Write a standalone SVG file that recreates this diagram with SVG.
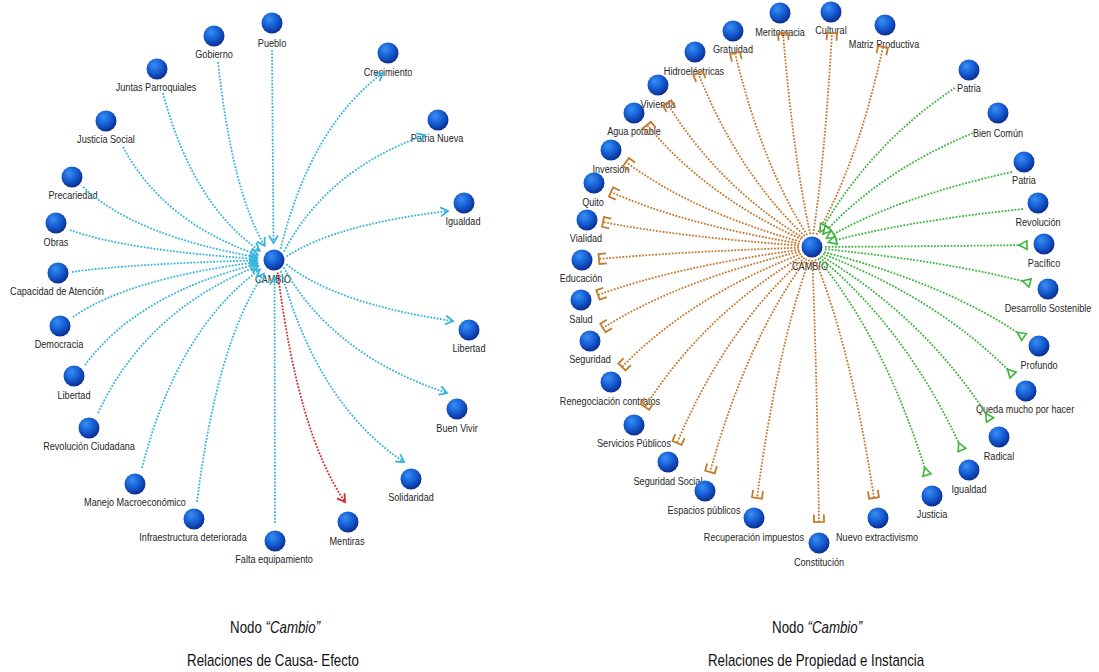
<svg xmlns="http://www.w3.org/2000/svg" width="1099" height="672" viewBox="0 0 1099 672">
  <defs>
    <radialGradient id="sphere" cx="0.42" cy="0.36" r="0.68" fx="0.36" fy="0.3">
      <stop offset="0" stop-color="#3a8ff2"/>
      <stop offset="0.5" stop-color="#1660d6"/>
      <stop offset="1" stop-color="#0a2788"/>
    </radialGradient>
    <!-- open chevron: cause/effect -->
    <marker id="mCy" markerUnits="userSpaceOnUse" viewBox="-10 -6 12 12" markerWidth="12" markerHeight="12" refX="0" refY="0" orient="auto">
      <path d="M-7.5,-4.5 L0,0 L-7.5,4.5" fill="none" stroke="#38b4dc" stroke-width="1.8"/>
    </marker>
    <marker id="mRd" markerUnits="userSpaceOnUse" viewBox="-10 -6 12 12" markerWidth="12" markerHeight="12" refX="0" refY="0" orient="auto">
      <path d="M-7.5,-4.5 L0,0 L-7.5,4.5" fill="none" stroke="#d42b2b" stroke-width="1.8"/>
    </marker>
    <!-- bracket: part-of -->
    <marker id="mOr" markerUnits="userSpaceOnUse" viewBox="-10 -7 12 14" markerWidth="12" markerHeight="14" refX="0" refY="0" orient="auto">
      <path d="M-7.5,-5 H0 V5 H-7.5" fill="none" stroke="#c47a2e" stroke-width="1.8"/>
    </marker>
    <!-- hollow triangle: is-a -->
    <marker id="mGrIn" markerUnits="userSpaceOnUse" viewBox="-10 -6 12 12" markerWidth="12" markerHeight="12" refX="0" refY="0" orient="auto">
      <path d="M-8,-4.2 L0,0 L-8,4.2 Z" fill="#fff" stroke="#3cb43c" stroke-width="1.6"/>
    </marker>
    <marker id="mGrOut" markerUnits="userSpaceOnUse" viewBox="-10 -6 12 12" markerWidth="12" markerHeight="12" refX="0" refY="0" orient="auto">
      <path d="M0,-4.2 L0,4.2 L-8,0 Z" fill="#fff" stroke="#3cb43c" stroke-width="1.6"/>
    </marker>
  </defs>
  <style>
    .node circle { fill: url(#sphere); }
    .node text, .cap {
      font-family: "Liberation Sans", Arial, sans-serif;
      transform-box: fill-box; transform-origin: center; transform: scaleX(0.83);
    }
    .node text { font-size: 11px; fill: #262626; text-anchor: middle; }
    .cap { font-size: 16px; fill: #111; text-anchor: middle; }
    .cap .it { font-style: italic; }
    .edge { fill: none; stroke-width: 1.8; stroke-dasharray: 1.8 1.5; }
    .cy { stroke: #38b4dc; marker-end: url(#mCy); }
    .rd { stroke: #d42b2b; marker-end: url(#mRd); }
    .or { stroke: #c47a2e; marker-end: url(#mOr); }
    .gi { stroke: #3cb43c; marker-end: url(#mGrIn); }
    .go { stroke: #3cb43c; marker-end: url(#mGrOut); }
  </style>

  <rect width="1099" height="672" fill="#fff"/>

  <!-- ===== Causa-Efecto network ===== -->
  <g id="left-nodes">
    <g id="l-cambio" class="node"><circle cx="274" cy="260" r="10.5"/><text x="273" y="283">CAMBIO</text></g>
    <g id="l-pueblo" class="node"><circle cx="272" cy="23" r="10.5"/><text x="272" y="47">Pueblo</text></g>
    <g id="l-gobierno" class="node"><circle cx="214" cy="36" r="10.5"/><text x="214" y="58">Gobierno</text></g>
    <g id="l-juntas" class="node"><circle cx="157" cy="69" r="10.5"/><text x="156" y="91">Juntas Parroquiales</text></g>
    <g id="l-justicia-social" class="node"><circle cx="106" cy="121" r="10.5"/><text x="106" y="143">Justicia Social</text></g>
    <g id="l-precariedad" class="node"><circle cx="72" cy="177" r="10.5"/><text x="73" y="199">Precariedad</text></g>
    <g id="l-obras" class="node"><circle cx="56" cy="223" r="10.5"/><text x="56" y="246">Obras</text></g>
    <g id="l-capacidad" class="node"><circle cx="58" cy="273" r="10.5"/><text x="57" y="295">Capacidad de Atención</text></g>
    <g id="l-democracia" class="node"><circle cx="60" cy="326" r="10.5"/><text x="59" y="348">Democracia</text></g>
    <g id="l-libertad-a" class="node"><circle cx="74" cy="376" r="10.5"/><text x="74" y="399">Libertad</text></g>
    <g id="l-revolucion" class="node"><circle cx="89" cy="428" r="10.5"/><text x="89" y="450">Revolución Ciudadana</text></g>
    <g id="l-manejo" class="node"><circle cx="135" cy="484" r="10.5"/><text x="135" y="506">Manejo Macroeconómico</text></g>
    <g id="l-infraestructura" class="node"><circle cx="194" cy="519" r="10.5"/><text x="193" y="541">Infraestructura deteriorada</text></g>
    <g id="l-falta" class="node"><circle cx="275" cy="541" r="10.5"/><text x="274" y="563">Falta equipamiento</text></g>
    <g id="l-mentiras" class="node"><circle cx="348" cy="522" r="10.5"/><text x="347" y="545">Mentiras</text></g>
    <g id="l-solidaridad" class="node"><circle cx="411" cy="479" r="10.5"/><text x="411" y="501">Solidaridad</text></g>
    <g id="l-buen-vivir" class="node"><circle cx="457" cy="409" r="10.5"/><text x="457" y="432">Buen Vivir</text></g>
    <g id="l-libertad-b" class="node"><circle cx="469" cy="330" r="10.5"/><text x="469" y="352">Libertad</text></g>
    <g id="l-igualdad" class="node"><circle cx="464" cy="203" r="10.5"/><text x="463" y="225">Igualdad</text></g>
    <g id="l-patria-nueva" class="node"><circle cx="438" cy="120" r="10.5"/><text x="437" y="142">Patria Nueva</text></g>
    <g id="l-crecimiento" class="node"><circle cx="388" cy="53" r="10.5"/><text x="388" y="76">Crecimiento</text></g>
  </g>

  <!-- ===== Propiedad e Instancia network ===== -->
  <g id="right-nodes">
    <g id="r-cambio" class="node"><circle cx="812" cy="247" r="10.5"/><text x="810" y="270">CAMBIO</text></g>
    <g id="r-meritocracia" class="node"><circle cx="780" cy="13" r="10.5"/><text x="780" y="36">Meritocracia</text></g>
    <g id="r-cultural" class="node"><circle cx="831" cy="12" r="10.5"/><text x="831" y="34">Cultural</text></g>
    <g id="r-matriz" class="node"><circle cx="885" cy="25" r="10.5"/><text x="884" y="48">Matriz Productiva</text></g>
    <g id="r-gratuidad" class="node"><circle cx="733" cy="31" r="10.5"/><text x="733" y="53">Gratuidad</text></g>
    <g id="r-hidro" class="node"><circle cx="695" cy="52" r="10.5"/><text x="694" y="75">Hidroeléctricas</text></g>
    <g id="r-vivienda" class="node"><circle cx="658" cy="85" r="10.5"/><text x="658" y="108">Vivienda</text></g>
    <g id="r-agua" class="node"><circle cx="634" cy="113" r="10.5"/><text x="634" y="135">Agua potable</text></g>
    <g id="r-inversion" class="node"><circle cx="611" cy="150" r="10.5"/><text x="611" y="173">Inversión</text></g>
    <g id="r-quito" class="node"><circle cx="594" cy="183" r="10.5"/><text x="593" y="206">Quito</text></g>
    <g id="r-vialidad" class="node"><circle cx="587" cy="220" r="10.5"/><text x="586" y="242">Vialidad</text></g>
    <g id="r-educacion" class="node"><circle cx="582" cy="260" r="10.5"/><text x="581" y="282">Educación</text></g>
    <g id="r-salud" class="node"><circle cx="581" cy="300" r="10.5"/><text x="581" y="323">Salud</text></g>
    <g id="r-seguridad" class="node"><circle cx="590" cy="341" r="10.5"/><text x="590" y="363">Seguridad</text></g>
    <g id="r-renegociacion" class="node"><circle cx="611" cy="382" r="10.5"/><text x="610" y="405">Renegociación contratos</text></g>
    <g id="r-servicios" class="node"><circle cx="634" cy="425" r="10.5"/><text x="634" y="447">Servicios Públicos</text></g>
    <g id="r-seguridad-social" class="node"><circle cx="668" cy="462" r="10.5"/><text x="668" y="485">Seguridad Social</text></g>
    <g id="r-espacios" class="node"><circle cx="705" cy="491" r="10.5"/><text x="704" y="514">Espacios públicos</text></g>
    <g id="r-recuperacion" class="node"><circle cx="754" cy="518" r="10.5"/><text x="754" y="541">Recuperación impuestos</text></g>
    <g id="r-constitucion" class="node"><circle cx="819" cy="543" r="10.5"/><text x="819" y="566">Constitución</text></g>
    <g id="r-nuevo" class="node"><circle cx="878" cy="518" r="10.5"/><text x="877" y="541">Nuevo extractivismo</text></g>
    <g id="r-justicia" class="node"><circle cx="932" cy="496" r="10.5"/><text x="932" y="518">Justicia</text></g>
    <g id="r-igualdad" class="node"><circle cx="969" cy="470" r="10.5"/><text x="969" y="493">Igualdad</text></g>
    <g id="r-radical" class="node"><circle cx="999" cy="437" r="10.5"/><text x="999" y="460">Radical</text></g>
    <g id="r-queda" class="node"><circle cx="1026" cy="391" r="10.5"/><text x="1025" y="413">Queda mucho por hacer</text></g>
    <g id="r-profundo" class="node"><circle cx="1039" cy="346" r="10.5"/><text x="1039" y="369">Profundo</text></g>
    <g id="r-desarrollo" class="node"><circle cx="1048" cy="289" r="10.5"/><text x="1048" y="312">Desarrollo Sostenible</text></g>
    <g id="r-pacifico" class="node"><circle cx="1044" cy="244" r="10.5"/><text x="1044" y="267">Pacífico</text></g>
    <g id="r-revolucion" class="node"><circle cx="1038" cy="203" r="10.5"/><text x="1038" y="226">Revolución</text></g>
    <g id="r-patria-b" class="node"><circle cx="1024" cy="162" r="10.5"/><text x="1024" y="184">Patria</text></g>
    <g id="r-bien-comun" class="node"><circle cx="998" cy="113" r="10.5"/><text x="998" y="137">Bien Común</text></g>
    <g id="r-patria-a" class="node"><circle cx="969" cy="70" r="10.5"/><text x="969" y="92">Patria</text></g>
  </g>

  <g id="connectors">
    <!-- causes of CAMBIO -->
    <path class="edge cy" d="M272,50 L273.5,243"/>
    <path class="edge cy" d="M218,62 Q232,190.7 264.6,245.8"/>
    <path class="edge cy" d="M163,93 Q192,203.5 259.7,250.8"/>
    <path class="edge cy" d="M123,147 Q163.4,222.5 257.8,254.8"/>
    <path class="edge cy" d="M83,187 Q135.3,236.1 257.2,257.2"/>
    <path class="edge cy" d="M70,230 Q126.1,250.2 257,258.9"/>
    <path class="edge cy" d="M72,272 Q127.5,263.9 257,260.4"/>
    <path class="edge cy" d="M73,317 Q128.2,278.6 257.1,262.1"/>
    <path class="edge cy" d="M85,365 Q136.8,294.2 257.5,263.9"/>
    <path class="edge cy" d="M98,413 Q146,310 258.1,265.9"/>
    <path class="edge cy" d="M142,468 Q177.4,329.1 259.9,269.5"/>
    <path class="edge cy" d="M197,502 Q217.1,342.2 263.9,273.7"/>
    <path class="edge cy" d="M275,523 L274.5,277"/>
    <!-- effects of CAMBIO -->
    <path class="edge cy" d="M280.5,248.8 Q311.3,125.7 383,73"/>
    <path class="edge cy" d="M284,251.7 Q326.3,170 425,135"/>
    <path class="edge cy" d="M286.5,256.5 Q335,224.6 448,211"/>
    <path class="edge cy" d="M286.3,264.2 Q336.3,304 453,321"/>
    <path class="edge cy" d="M283.5,267.3 Q332.6,355.3 447,393"/>
    <path class="edge cy" d="M281,270.9 Q317.9,404.7 404,462"/>
    <path class="edge rd" d="M277.7,272.5 Q297.9,433.2 345,502"/>

    <!-- parts of CAMBIO -->
    <path class="edge or" d="M816.4,234.7 Q857.7,163.4 883,47"/>
    <path class="edge or" d="M813.2,234.1 Q824.9,157.7 832,33"/>
    <path class="edge or" d="M810.3,234.1 Q793.4,157.7 783,33"/>
    <path class="edge or" d="M807.2,234.9 Q762.4,165.8 735,53"/>
    <path class="edge or" d="M804.9,236.1 Q738.6,174.1 698,73"/>
    <path class="edge or" d="M802.8,237.8 Q718.6,186.6 667,103"/>
    <path class="edge or" d="M801.5,239.3 Q705.7,195.9 647,125"/>
    <path class="edge or" d="M800.2,241.6 Q692.2,211.4 626,162"/>
    <path class="edge or" d="M799.5,243.6 Q682.6,224 611,192"/>
    <path class="edge or" d="M799.1,245.5 Q677.5,236.6 603,222"/>
    <path class="edge or" d="M799,247.7 Q675,252 599,259"/>
    <path class="edge or" d="M799.3,249.8 Q674.5,267 598,295"/>
    <path class="edge or" d="M799.9,251.7 Q677.8,280.7 603,328"/>
    <path class="edge or" d="M801,253.9 Q690,296.9 622,367"/>
    <path class="edge or" d="M802.6,256 Q704.9,313.4 645,407"/>
    <path class="edge or" d="M804.6,257.7 Q725.5,328.1 677,443"/>
    <path class="edge or" d="M806.6,258.8 Q746.7,339.8 710,472"/>
    <path class="edge or" d="M809.2,259.7 Q776.8,350.3 757,498"/>
    <path class="edge or" d="M812.3,260 Q816.5,359.6 819,522"/>
    <path class="edge or" d="M815.1,259.6 Q851.6,350.2 874,498"/>

    <!-- kinds of CAMBIO -->
    <path class="edge gi" d="M955,88 Q871.4,142.8 820.2,232.1"/>
    <path class="edge gi" d="M973,133 Q880.1,171.4 823.1,234.1"/>
    <path class="edge gi" d="M1012,172 Q897,197.1 826.5,238.1"/>
    <path class="edge gi" d="M1023,209 Q902.3,221.6 828.3,242.2"/>
    <path class="edge go" d="M825,246.9 Q950.2,246.2 1027,245"/>
    <path class="edge go" d="M824.8,249.1 Q952,262 1030,283"/>
    <path class="edge go" d="M824,252.1 Q948,284.4 1024,337"/>
    <path class="edge go" d="M823,254 Q940.8,300 1013,375"/>
    <path class="edge go" d="M821.3,256.1 Q925.9,318.4 990,420"/>
    <path class="edge go" d="M819.7,257.5 Q907.9,330.7 962,450"/>
    <path class="edge go" d="M817.9,258.6 Q885.5,340.8 927,475"/>
  </g>

  <g id="captions">
    <text class="cap" x="275" y="633">Nodo <tspan class="it">“Cambio”</tspan></text>
    <text class="cap" x="273" y="666">Relaciones de Causa- Efecto</text>
    <text class="cap" x="817" y="633">Nodo <tspan class="it">“Cambio”</tspan></text>
    <text class="cap" x="816" y="666">Relaciones de Propiedad e Instancia</text>
  </g>
</svg>
